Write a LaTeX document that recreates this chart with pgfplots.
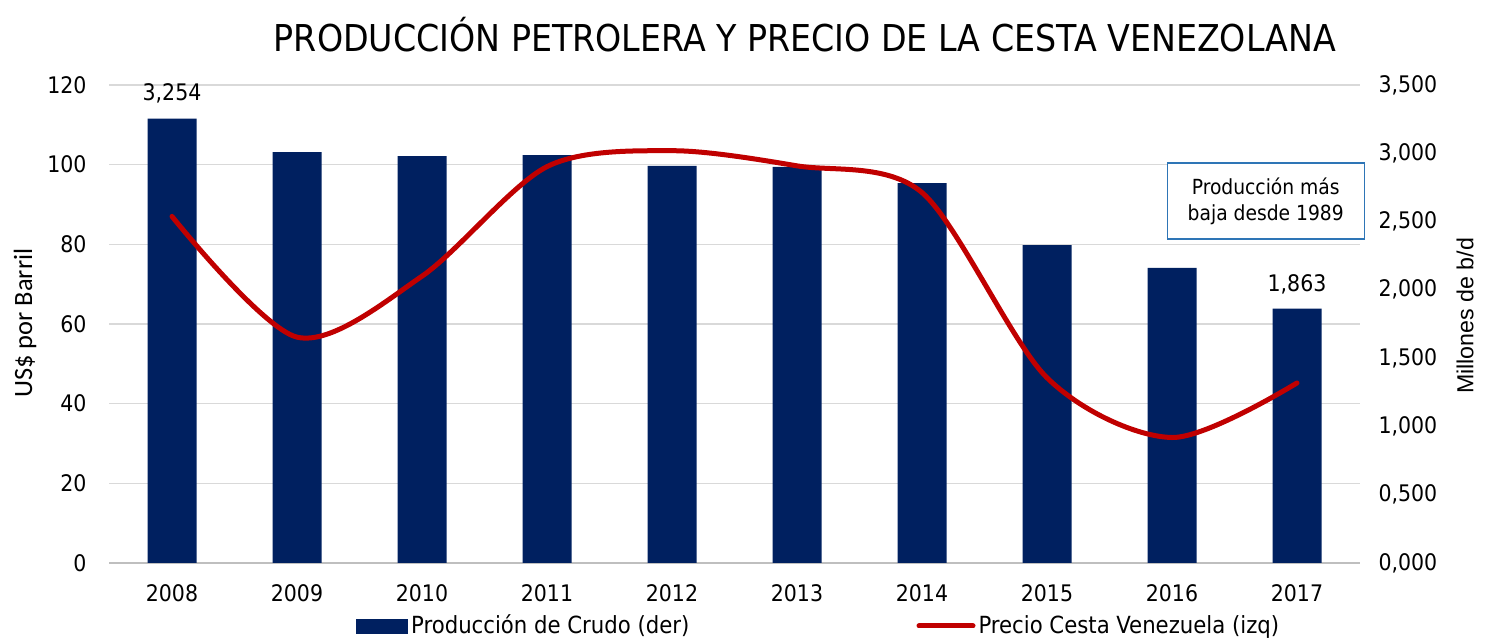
\documentclass[border=0pt]{standalone}
\usepackage{pgfplots}
\pgfplotsset{compat=1.18}
\usepackage{fontspec}
\setmainfont{DejaVu Sans Condensed}
\newfontfamily\calibri{Carlito}
\newfontfamily\arial{Liberation Sans}
\definecolor{navy}{HTML}{002060}
\definecolor{cred}{HTML}{C00000}
\definecolor{gridc}{HTML}{D9D9D9}
\definecolor{axc}{HTML}{BFBFBF}
\definecolor{boxc}{HTML}{2E75B6}
\begin{document}
\begin{tikzpicture}
\pgfplotsset{
  base/.style={scale only axis, width=625pt, height=239pt, xmin=-0.5, xmax=9.5,
    /pgf/number format/assume math mode=true,
    tick label style={font=\fontsize{11.4}{13}\selectfont},
    major tick length=0pt, clip=false}
}
% grid + left axis + x labels
\begin{axis}[base, ymin=0, ymax=120, ytick={0,20,...,120},
  ymajorgrids, grid style={gridc, line width=0.75pt},
  axis x line*=bottom, axis y line*=left,
  y axis line style={draw=none},
  x axis line style={axc, line width=1.25pt, -},
  xtick={0,...,9},
  xticklabels={2008,2009,2010,2011,2012,2013,2014,2015,2016,2017},
  xticklabel shift=7.5pt, yticklabel shift=8pt,
  ylabel={US\$ por Barril},
  every axis y label/.style={at={(rel axis cs:-0.0676,0.502)}, rotate=90, anchor=center,
    font=\calibri\fontsize{13.2}{15}\selectfont},
]
\addplot[draw=none, forget plot] coordinates {(0,0)};
\end{axis}
% bars on right axis
\begin{axis}[base, ymin=0, ymax=3.5, ytick={0,0.5,...,3.5},
  axis x line=none, axis y line*=right, y axis line style={draw=none},
  yticklabel style={/pgf/number format/.cd, fixed, fixed zerofill, precision=3, use comma},
  yticklabel shift=6pt,
  ylabel={Millones de b/d},
  every axis y label/.style={at={(rel axis cs:1.0844,0.517)}, rotate=90, anchor=center,
    font=\arial\fontsize{11.6}{13}\selectfont},
]
\addplot[ybar, bar width=24.5pt, fill=navy, draw=none] coordinates {
(0,3.254) (1,3.009) (2,2.980) (3,2.987) (4,2.907) (5,2.900) (6,2.782) (7,2.328) (8,2.160) (9,1.863)};
\node[font=\fontsize{11.4}{13}\selectfont, anchor=center, yshift=12.5pt] at (axis cs:0,3.254) {3,254};
\node[font=\fontsize{11.4}{13}\selectfont, anchor=center, yshift=12pt] at (axis cs:9,1.863) {1,863};
\end{axis}
% price line on left axis
\begin{axis}[base, ymin=0, ymax=120, hide axis,
  legend style={at={(rel axis cs:0.1924,-0.1318)}, anchor=west, draw=none, fill=none,
    legend columns=2, font=\fontsize{11.8}{13.5}\selectfont,
    /tikz/every even column/.append style={column sep=112pt},
    nodes={inner sep=1.5pt}},
  legend cell align=left,
]
\addlegendimage{legend image code/.code={\fill[navy] (0pt,-3.5pt) rectangle (25.5pt,3.5pt);}}
\addlegendentry{Producción de Crudo (der)}
\addplot[cred, line width=2.5pt, smooth, line cap=round,
  legend image code/.code={\draw[cred, line width=2.5pt, line cap=round] (0pt,0pt) -- (27pt,0pt);}]
  coordinates {(0,87.0) (1,56.7) (2,72.0) (3,99.5) (4,103.5) (5,99.7) (6,93.0) (7,46.5) (8,31.5) (9,45.2)};
\addlegendentry{Precio Cesta Venezuela (izq)}
\node[draw=boxc, line width=0.75pt, align=center, fill=white, minimum width=98.5pt, minimum height=38pt,
  font=\fontsize{10.4}{12.8}\selectfont] at (rel axis cs:0.925,0.757) {Producción más\\baja desde 1989};
\node[font=\fontsize{18.5}{21}\selectfont, anchor=center] at (rel axis cs:0.5564,1.105)
  {PRODUCCIÓN PETROLERA Y PRECIO DE LA CESTA VENEZOLANA};
\path (rel axis cs:-0.0876,-0.159) rectangle (rel axis cs:1.1004,1.1778);
\end{axis}
\end{tikzpicture}
\end{document}
